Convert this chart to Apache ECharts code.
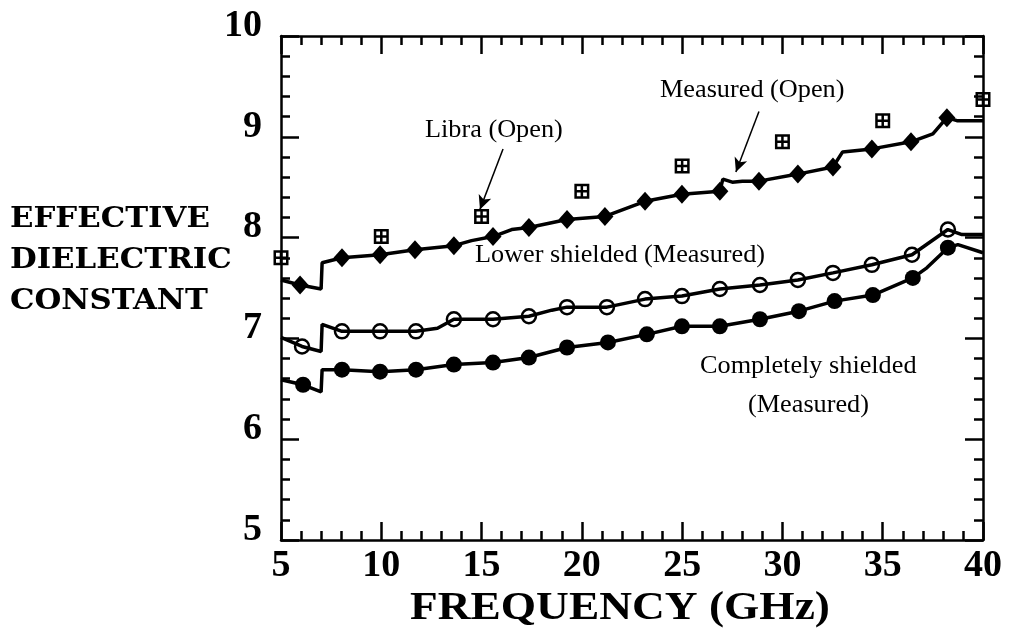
<!DOCTYPE html>
<html>
<head>
<meta charset="utf-8">
<script src="https://cdn.jsdelivr.net/npm/echarts@6/dist/echarts.min.js"></script>
<style>
  html, body { margin: 0; padding: 0; background: #fff; }
  #main { width: 1009px; height: 640px; }
</style>
</head>
<body>
<div id="main"></div>
<script>
// frequency axis ticks (GHz) and dielectric constant ticks
var xTicks = [5, 10, 15, 20, 25, 30, 35, 40];
var yTicks = [5, 6, 7, 8, 9, 10];

// Measured (Open) - traced curve and diamond markers
var openLineX = [5, 5.95, 7.0, 7.05, 8.04, 9.94, 11.68, 13.62, 14.5, 15.57, 16.5, 17.36, 19.26, 21.15, 23.15, 24.99, 26.88, 27.03, 27.5, 28.0, 28.83, 30.77, 32.52, 33.0, 34.46, 36.41, 37.5, 38.2, 38.7, 40];
var openLineY = [7.58, 7.53, 7.49, 7.75, 7.80, 7.83, 7.88, 7.92, 7.97, 8.01, 8.08, 8.10, 8.18, 8.21, 8.36, 8.43, 8.46, 8.58, 8.55, 8.56, 8.56, 8.63, 8.70, 8.85, 8.88, 8.95, 9.03, 9.19, 9.16, 9.16];
var openMarkX = [5.95, 8.04, 9.94, 11.68, 13.62, 15.57, 17.36, 19.26, 21.15, 23.15, 24.99, 26.88, 28.83, 30.77, 32.52, 34.46, 36.41, 38.2];
var openMarkY = [7.53, 7.80, 7.83, 7.88, 7.92, 8.01, 8.10, 8.18, 8.21, 8.36, 8.43, 8.46, 8.56, 8.63, 8.70, 8.88, 8.95, 9.19];

// Libra (Open) simulation points
var libraX = [5, 10, 15, 20, 25, 30, 35, 40];
var libraY = [7.80, 8.01, 8.21, 8.46, 8.71, 8.95, 9.16, 9.37];

// Lower shielded (Measured)
var lowerLineX = [5, 6.05, 7.0, 7.05, 8.04, 9.94, 11.73, 12.8, 13.62, 15.57, 17.36, 18.5, 19.26, 21.25, 23.15, 24.99, 26.88, 28.88, 30.77, 32.52, 34.46, 36.46, 38.25, 38.95, 40];
var lowerLineY = [7.01, 6.92, 6.87, 7.14, 7.07, 7.07, 7.07, 7.10, 7.19, 7.19, 7.22, 7.28, 7.31, 7.31, 7.39, 7.42, 7.49, 7.53, 7.58, 7.65, 7.73, 7.83, 8.08, 8.03, 8.03];
var lowerMarkX = [6.05, 8.04, 9.94, 11.73, 13.62, 15.57, 17.36, 19.26, 21.25, 23.15, 24.99, 26.88, 28.88, 30.77, 32.52, 34.46, 36.46, 38.25];
var lowerMarkY = [6.92, 7.07, 7.07, 7.07, 7.19, 7.19, 7.22, 7.31, 7.31, 7.39, 7.42, 7.49, 7.53, 7.58, 7.65, 7.73, 7.83, 8.08];

// Completely shielded (Measured)
var fullLineX = [5, 6.1, 7.0, 7.05, 8.04, 9.94, 11.73, 13.62, 15.57, 17.36, 19.26, 21.3, 23.24, 24.99, 26.88, 28.88, 30.82, 32.6, 34.51, 36.5, 37.2, 38.25, 38.75, 40];
var fullLineY = [6.59, 6.54, 6.47, 6.69, 6.69, 6.67, 6.69, 6.74, 6.76, 6.81, 6.91, 6.96, 7.04, 7.12, 7.12, 7.19, 7.27, 7.37, 7.43, 7.60, 7.70, 7.90, 7.93, 7.85];
var fullMarkX = [6.1, 8.04, 9.94, 11.73, 13.62, 15.57, 17.36, 19.26, 21.3, 23.24, 24.99, 26.88, 28.88, 30.82, 32.6, 34.51, 36.5, 38.25];
var fullMarkY = [6.54, 6.69, 6.67, 6.69, 6.74, 6.76, 6.81, 6.91, 6.96, 7.04, 7.12, 7.12, 7.19, 7.27, 7.37, 7.43, 7.60, 7.90];

function pairs(xs, ys) {
    var out = [];
    for (var i = 0; i < xs.length; i++) out.push([xs[i], ys[i]]);
    return out;
}

// boxed plus symbol (square frame with a cross, holes wound the other way)
var boxPlus = 'path://M0,0H12V12H0Z' +
    'M2,2V5H5V2Z M7,2V5H10V2Z M2,7V10H5V7Z M7,7V10H10V7Z';

var serif = 'Liberation Serif';
var tickFont = { fontFamily: serif, fontWeight: 'bold', fontSize: 38, color: '#000' };

var myChart = echarts.init(document.getElementById('main'));

var axisCommon = {
    axisLine: { show: true, onZero: false, lineStyle: { color: '#000', width: 2.5 } },
    axisTick: { show: true, inside: true, length: 18, lineStyle: { color: '#000', width: 2.5 } },
    minorTick: { show: true, splitNumber: 5, length: 9, lineStyle: { color: '#000', width: 2.5 } },
    splitLine: { show: false }
};

var annot = function (left, top, text) {
    return {
        type: 'text', left: left, top: top, scaleX: 1.05,
        style: { text: text, font: '25px "Liberation Serif"', fill: '#000' }
    };
};

var option = {
    backgroundColor: '#fff',
    animation: false,
    grid: { left: 281, right: 26, top: 36, bottom: 100 },
    xAxis: [
        Object.assign({
            type: 'value', min: 5, max: 40, interval: 5, position: 'bottom',
            axisLabel: Object.assign({ margin: 7, formatter: function (v) { return xTicks.indexOf(v) >= 0 ? String(v) : ''; } }, tickFont)
        }, axisCommon),
        Object.assign({
            type: 'value', min: 5, max: 40, interval: 5, position: 'top',
            axisLabel: { show: false }
        }, axisCommon)
    ],
    yAxis: [
        Object.assign({
            type: 'value', min: 5, max: 10, interval: 1, position: 'left',
            axisLabel: Object.assign({ margin: 19, verticalAlign: 'bottom', lineHeight: 20, formatter: function (v) { return yTicks.indexOf(v) >= 0 ? String(v) : ''; } }, tickFont)
        }, axisCommon),
        Object.assign({
            type: 'value', min: 5, max: 10, interval: 1, position: 'right',
            axisLabel: { show: false }
        }, axisCommon)
    ],
    graphic: [
        {
            type: 'text', left: 10, top: 199, scaleX: 1.1,
            style: {
                text: 'EFFECTIVE\nDIELECTRIC\nCONSTANT',
                font: 'bold 28px "DejaVu Serif"', fill: '#000', lineHeight: 41
            }
        },
        {
            type: 'text', left: 410, top: 589, scaleX: 1.135,
            style: { text: 'FREQUENCY (GHz)', font: 'bold 40px "Liberation Serif"', fill: '#000' }
        },
        annot(425, 118, 'Libra (Open)'),
        annot(660, 78, 'Measured (Open)'),
        annot(475, 243, 'Lower shielded (Measured)'),
        annot(700, 354, 'Completely shielded'),
        annot(748, 393, '(Measured)')
    ],
    series: [
        {
            name: 'Measured (Open)', type: 'line', data: pairs(openLineX, openLineY),
            showSymbol: false, lineStyle: { color: '#000', width: 3.5 },
            markLine: {
                silent: true, symbolSize: [10, 14],
                lineStyle: { color: '#000', width: 1.5, type: 'solid' },
                label: { show: false },
                data: [
                    [{ coord: [16.07, 8.88], symbol: 'none' }, { coord: [14.92, 8.28], symbol: 'arrow' }],
                    [{ coord: [28.83, 9.25], symbol: 'none' }, { coord: [27.68, 8.65], symbol: 'arrow' }]
                ]
            }
        },
        {
            type: 'line', data: pairs(lowerLineX, lowerLineY),
            showSymbol: false, lineStyle: { color: '#000', width: 3.5 }
        },
        {
            type: 'line', data: pairs(fullLineX, fullLineY),
            showSymbol: false, lineStyle: { color: '#000', width: 3.5 }
        },
        {
            type: 'scatter', data: pairs(openMarkX, openMarkY),
            symbol: 'diamond', symbolSize: [17, 19], itemStyle: { color: '#000', opacity: 1 }
        },
        {
            type: 'scatter', data: pairs(lowerMarkX, lowerMarkY),
            symbol: 'circle', symbolSize: 14,
            itemStyle: { color: '#fff', borderColor: '#000', borderWidth: 2.5, opacity: 1 }
        },
        {
            type: 'scatter', data: pairs(fullMarkX, fullMarkY),
            symbol: 'circle', symbolSize: 16, itemStyle: { color: '#000', opacity: 1 }
        },
        {
            name: 'Libra (Open)', type: 'scatter', data: pairs(libraX, libraY),
            symbol: boxPlus, symbolSize: 15, itemStyle: { color: '#000', opacity: 1 }
        }
    ]
};

myChart.setOption(option);
</script>
</body>
</html>
